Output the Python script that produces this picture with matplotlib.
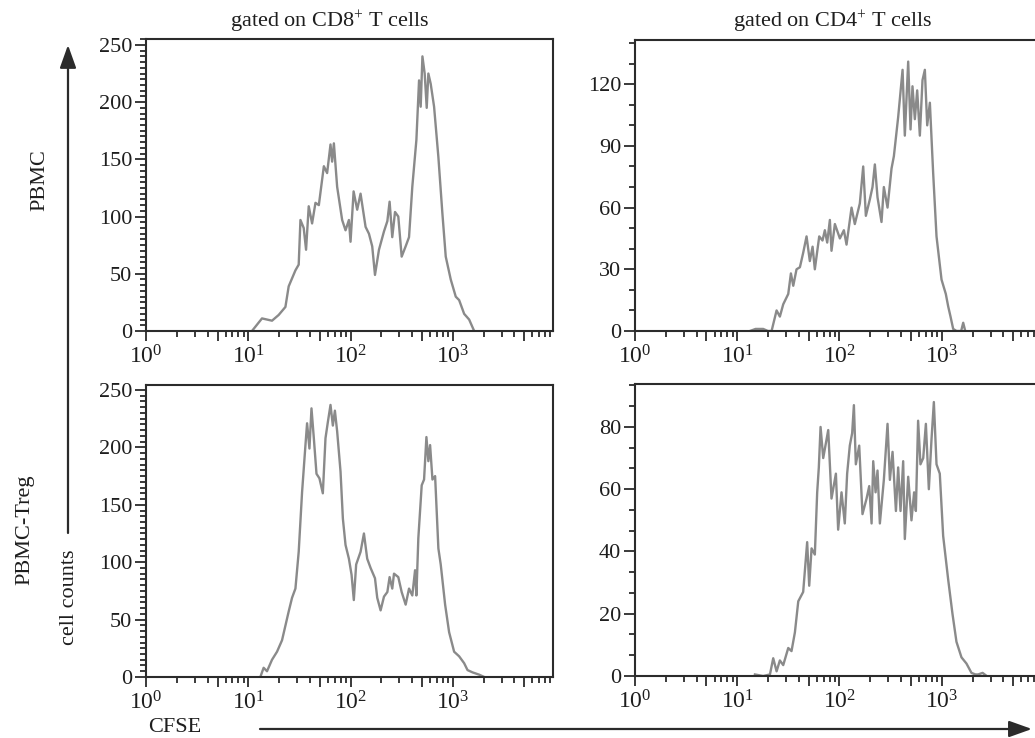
import matplotlib

matplotlib.use("Agg")
import matplotlib.pyplot as plt
import numpy as np
from matplotlib.patches import FancyArrowPatch
from matplotlib.ticker import FixedLocator, FuncFormatter, MultipleLocator

plt.rcParams["font.family"] = ["Liberation Serif", "DejaVu Serif"]
plt.rcParams["mathtext.fontset"] = "custom"
plt.rcParams["mathtext.rm"] = "Liberation Serif"
plt.rcParams["mathtext.it"] = "Liberation Serif:italic"

cd8_pbmc_log = [1.036, 1.134, 1.232, 1.297, 1.363, 1.395, 1.461, 1.493, 1.510, 1.542,
                1.565, 1.591, 1.624, 1.657, 1.690, 1.739, 1.771, 1.804, 1.820, 1.837,
                1.869, 1.918, 1.951, 1.984, 2.000, 2.030, 2.065, 2.098, 2.147, 2.180,
                2.212, 2.239, 2.278, 2.327, 2.360, 2.382, 2.408, 2.435, 2.467, 2.500,
                2.539, 2.572, 2.604, 2.644, 2.670, 2.686, 2.703, 2.725, 2.745, 2.761,
                2.784, 2.817, 2.859, 2.898, 2.931, 2.980, 3.029, 3.062, 3.111, 3.160,
                3.209]
cd8_pbmc_count = [0, 11, 9, 14, 21, 39, 53, 58, 97, 90,
                  71, 109, 94, 112, 110, 144, 138, 163, 148, 164,
                  126, 97, 88, 97, 78, 122, 106, 120, 91, 85,
                  74, 49, 71, 87, 96, 113, 82, 104, 100, 65,
                  74, 82, 126, 167, 219, 196, 240, 225, 195, 225,
                  216, 196, 152, 103, 65, 45, 30, 27, 15, 10,
                  0]

cd4_pbmc_log = [1.124, 1.180, 1.254, 1.300, 1.336, 1.385, 1.417, 1.450, 1.499, 1.525,
                1.548, 1.580, 1.613, 1.645, 1.678, 1.710, 1.737, 1.759, 1.802, 1.834,
                1.857, 1.880, 1.906, 1.922, 1.955, 2.004, 2.043, 2.069, 2.118, 2.150,
                2.199, 2.232, 2.258, 2.297, 2.323, 2.346, 2.372, 2.411, 2.434, 2.470,
                2.509, 2.532, 2.574, 2.617, 2.639, 2.672, 2.695, 2.714, 2.737, 2.760,
                2.786, 2.812, 2.835, 2.858, 2.884, 2.916, 2.949, 2.998, 3.040, 3.063,
                3.086, 3.112, 3.145, 3.190, 3.210, 3.230]
cd4_pbmc_count = [0, 1, 1, 0, 0, 10, 7, 13, 18, 28,
                  22, 30, 31, 38, 46, 34, 41, 30, 46, 44,
                  49, 43, 54, 39, 52, 45, 49, 42, 60, 52,
                  62, 80, 56, 64, 70, 81, 65, 53, 70, 60,
                  79, 85, 104, 127, 95, 131, 98, 119, 103, 117,
                  95, 122, 127, 100, 111, 77, 46, 25, 18, 12,
                  7, 1, 0, 0, 4, 0]

cd8_treg_log = [1.118, 1.150, 1.183, 1.232, 1.281, 1.330, 1.356, 1.395, 1.428, 1.461,
                1.493, 1.526, 1.559, 1.575, 1.598, 1.618, 1.641, 1.667, 1.696, 1.729,
                1.755, 1.778, 1.804, 1.827, 1.847, 1.869, 1.902, 1.925, 1.951, 1.984,
                2.010, 2.032, 2.055, 2.098, 2.131, 2.163, 2.196, 2.239, 2.261, 2.294,
                2.327, 2.360, 2.382, 2.408, 2.425, 2.467, 2.500, 2.539, 2.572, 2.604,
                2.631, 2.644, 2.663, 2.696, 2.719, 2.742, 2.761, 2.778, 2.801, 2.827,
                2.859, 2.882, 2.925, 2.964, 3.013, 3.062, 3.111, 3.144, 3.193, 3.258,
                3.307]
cd8_treg_count = [0, 8, 5, 15, 22, 32, 42, 57, 69, 77,
                  109, 161, 202, 221, 199, 234, 208, 177, 173, 160,
                  208, 222, 237, 219, 232, 214, 179, 138, 115, 103,
                  89, 67, 98, 109, 125, 103, 95, 86, 69, 58,
                  70, 74, 87, 77, 90, 87, 74, 63, 77, 71,
                  93, 71, 121, 167, 172, 209, 188, 202, 172, 175,
                  112, 98, 63, 39, 22, 18, 12, 6, 4, 2,
                  0]

cd4_treg_log = [1.173, 1.254, 1.320, 1.352, 1.385, 1.417, 1.450, 1.499, 1.531, 1.564,
                1.597, 1.645, 1.684, 1.704, 1.727, 1.759, 1.782, 1.798, 1.815, 1.841,
                1.890, 1.922, 1.965, 1.987, 2.020, 2.052, 2.075, 2.101, 2.124, 2.141,
                2.160, 2.193, 2.225, 2.265, 2.291, 2.314, 2.330, 2.353, 2.372, 2.395,
                2.434, 2.470, 2.493, 2.519, 2.552, 2.574, 2.597, 2.623, 2.639, 2.672,
                2.704, 2.730, 2.747, 2.769, 2.792, 2.819, 2.845, 2.874, 2.900, 2.923,
                2.949, 2.981, 3.014, 3.063, 3.105, 3.144, 3.193, 3.242, 3.291, 3.330,
                3.356, 3.400, 3.440]
cd4_treg_count = [0.5, 0, 0.5, 5.7, 1.5, 5, 3.5, 9, 8, 14,
                  24, 27, 43, 29, 41, 39, 59, 67, 80, 70,
                  79, 57, 65, 47, 59, 49, 65, 74, 78, 87,
                  68, 74, 52, 57, 61, 49, 69, 59, 66, 49,
                  63, 81, 63, 72, 53, 67, 53, 69, 44, 64,
                  50, 59, 53, 82, 68, 70, 81, 60, 76, 88,
                  68, 65, 45, 31, 20, 11, 6, 4, 1, 0.5,
                  0.5, 1, 0]

titles = ["gated on CD8$^{+}$ T cells", "gated on CD4$^{+}$ T cells"]
row_labels = ["PBMC", "PBMC-Treg"]

LINE = "#8a8a8a"
INK = "#2b2b2b"
TXT = "#1e1e1e"

fig = plt.figure(figsize=(10.35, 7.38), dpi=100)

panels = [
    # (rect, log positions, counts, ymax, major step, minor step)
    ([0.1411, 0.5515, 0.3932, 0.3957], cd8_pbmc_log, cd8_pbmc_count, 255.2, 50, 5),
    ([0.6135, 0.5515, 0.3932, 0.3943], cd4_pbmc_log, cd4_pbmc_count, 141.5, 30, 10),
    ([0.1411, 0.0827, 0.3932, 0.3957], cd8_treg_log, cd8_treg_count, 254.4, 50, 5),
    ([0.6135, 0.0840, 0.3932, 0.3957], cd4_treg_log, cd4_treg_count, 93.8, 20, 20 / 3),
]

decades = [1, 10, 100, 1000]
fives = [5, 50, 500, 5000]
minors = [m * d for d in decades for m in (2, 3, 4, 6, 7, 8, 9)]


def decade_label(v, pos):
    if v in decades:
        return "$10^{%d}$" % int(round(np.log10(v)))
    return ""


for rect, xs, ys, ymax, major, minor in panels:
    ax = fig.add_axes(rect)
    ax.plot(10 ** np.asarray(xs), ys, color=LINE, lw=1.7)
    ax.set_xscale("log")
    ax.set_xlim(1, 10 ** 3.98)
    ax.set_ylim(0, ymax)
    ax.xaxis.set_major_locator(FixedLocator(decades + fives))
    ax.xaxis.set_major_formatter(FuncFormatter(decade_label))
    ax.xaxis.set_minor_locator(FixedLocator(minors))
    ax.yaxis.set_major_locator(MultipleLocator(major))
    ax.yaxis.set_minor_locator(MultipleLocator(minor))
    ax.tick_params(axis="both", which="both", direction="out", color=INK, width=1.3,
                   labelcolor=TXT)
    ax.tick_params(axis="x", which="major", length=7, pad=3, labelsize=17)
    ax.tick_params(axis="x", which="minor", length=4)
    ax.tick_params(axis="y", which="major", length=8, pad=2, labelsize=16)
    ax.tick_params(axis="y", which="minor", length=4)
    for side in ax.spines.values():
        side.set_color(INK)
        side.set_linewidth(1.5)

fig.text(0.319, 0.970, titles[0], ha="center", va="center", fontsize=16, color=TXT)
fig.text(0.805, 0.970, titles[1], ha="center", va="center", fontsize=16, color=TXT)
fig.text(0.0386, 0.756, row_labels[0], rotation=90, ha="center", va="center", fontsize=16, color=TXT)
fig.text(0.0242, 0.282, row_labels[1], rotation=90, ha="center", va="center", fontsize=16, color=TXT)
fig.text(0.0676, 0.191, "cell counts", rotation=90, ha="center", va="center", fontsize=16, color=TXT)
fig.text(0.169, 0.0136, "CFSE", ha="center", va="center", fontsize=16, color=TXT)

arrow = dict(arrowstyle="-|>,head_length=0.7,head_width=0.25", mutation_scale=20,
             color=INK, lw=1.6, shrinkA=0, shrinkB=0, transform=fig.transFigure)
fig.add_artist(FancyArrowPatch((0.0657, 0.2778), (0.0657, 0.939), **arrow))
fig.add_artist(FancyArrowPatch((0.2512, 0.0122), (0.997, 0.0122), **arrow))

fig.savefig("out.png", dpi=100, facecolor="white")
